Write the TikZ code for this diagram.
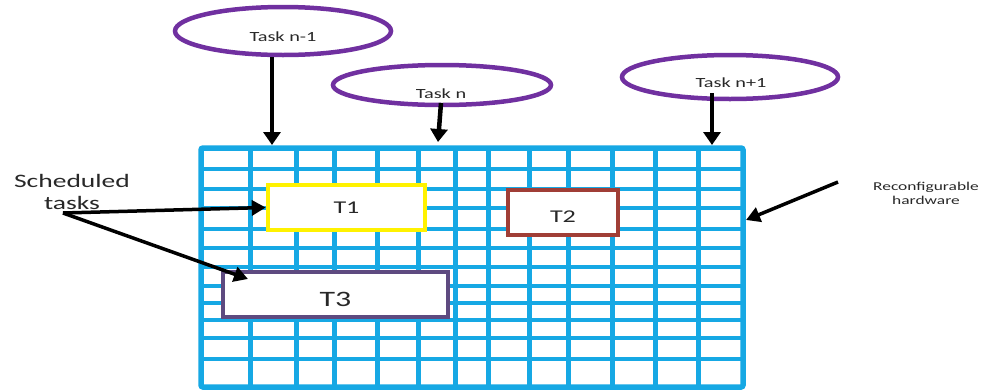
\documentclass[tikz,border=0pt]{standalone}
\usepackage{fontspec}
\setmainfont{Carlito}
\usetikzlibrary{arrows.meta,shapes.geometric}

\definecolor{gridblue}{RGB}{22,168,228}
\definecolor{taskpurple}{RGB}{112,48,160}
\definecolor{tOne}{RGB}{255,242,0}
\definecolor{tTwo}{RGB}{160,62,54}
\definecolor{tThree}{RGB}{94,74,128}
\definecolor{txt}{RGB}{40,40,40}

\tikzset{
  lbl/.style={text=txt, inner sep=0pt, xscale=1.45},
  taskoval/.style={ellipse, draw=taskpurple, line width=4.5pt, inner sep=0pt},
  slot/.style={draw=#1, line width=4.5pt, fill=white, inner sep=0pt},
  bigarrow/.style={draw=black, line width=4.5pt, -{Triangle[width=17pt,length=13pt]}},
  ptr/.style={draw=black, line width=3.5pt, -{Triangle[width=15pt,length=14pt]}},
  gridline/.style={draw=gridblue, line width=#1}
}

\begin{document}
\begin{tikzpicture}[x=1pt, y=-1pt]
  \useasboundingbox (0,0) rectangle (986,389);

  % reconfigurable fabric: irregular columns and rows
  \foreach \gx in {250,296,334,377,418,455,488,529,568,612,655,698}
    \draw[gridline=5pt] (\gx,148) -- (\gx,387);
  \foreach \gy in {169,189,208,229,248,267,286,303,320,338,359}
    \draw[gridline=3.5pt] (201,\gy) -- (743,\gy);
  \draw[gridline=5.5pt, rounded corners=2pt] (201,148) rectangle (743,387);

  % tasks placed on the fabric
  \node[slot=tOne, minimum width=157pt, minimum height=45pt] (t1) at (346.5,207.5) {};
  \node[lbl, font=\fontsize{18}{18}\selectfont] at (t1) {T1};
  \node[slot=tTwo, minimum width=110pt, minimum height=45pt] (t2) at (563,212.5) {};
  \node[lbl, font=\fontsize{18}{18}\selectfont] at ([yshift=-4pt]t2.center) {T2};
  \node[slot=tThree, minimum width=225pt, minimum height=45pt] (t3) at (335.5,294.5) {};
  \node[lbl, font=\fontsize{22}{22}\selectfont] at ([yshift=-5pt]t3.center) {T3};

  % incoming tasks
  \node[taskoval, minimum width=216pt, minimum height=48pt] (tm) at (283,31) {};
  \node[lbl, font=\fontsize{14}{14}\selectfont] at (283,37) {Task n-1};
  \node[taskoval, minimum width=218pt, minimum height=40pt] (tn) at (442,85) {};
  \node[lbl, font=\fontsize{14}{14}\selectfont] at (441,94) {Task n};
  \node[taskoval, minimum width=216pt, minimum height=44pt] (tp) at (730,77) {};
  \node[lbl, font=\fontsize{14}{14}\selectfont] at (731,83) {Task n+1};

  \coordinate (am) at (272,145);
  \coordinate (an) at (438,142);
  \coordinate (ap) at (712,145);
  \draw[bigarrow] (tm.south -| am) -- (am);
  \draw[bigarrow] (441,103) -- (an);
  \draw[bigarrow] (712,93) -- (ap);

  % annotations
  \node[lbl, font=\fontsize{19}{22}\selectfont, align=center] (sched) at (72,192) {Scheduled\\tasks};
  \coordinate (sroot) at (63,213);
  \coordinate (t3tip) at (248,279);
  \draw[ptr] (sroot) -- (t1.west);
  \draw[ptr] (sroot) -- (t3tip);

  \node[lbl, font=\fontsize{12}{14}\selectfont, align=center] (hw) at (926,193) {Reconfigurable\\hardware};
  \coordinate (hwtail) at (838,182);
  \coordinate (hwtip) at (746,220);
  \draw[ptr] (hwtail) -- (hwtip);
\end{tikzpicture}
\end{document}
